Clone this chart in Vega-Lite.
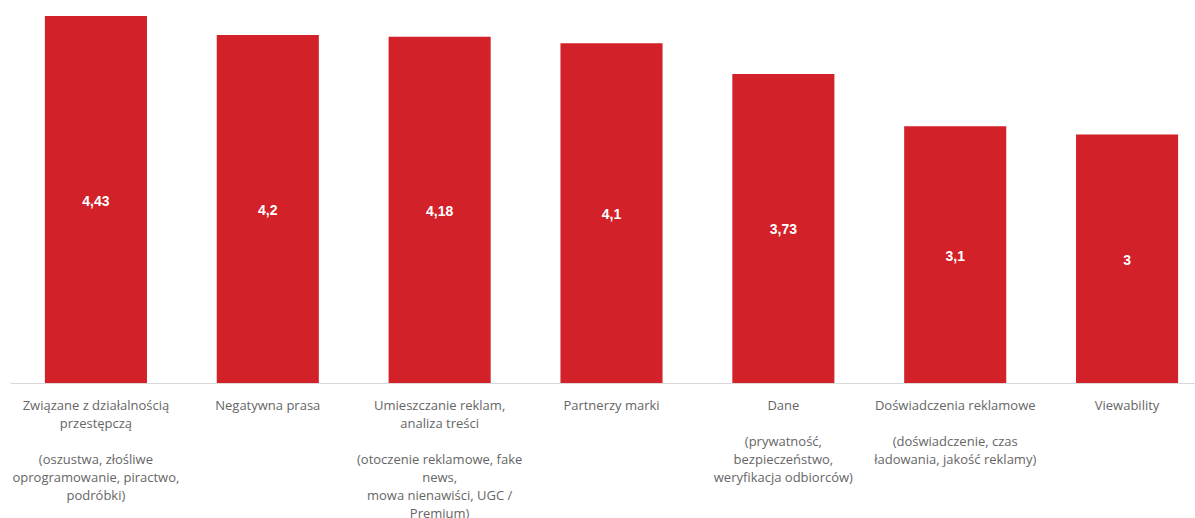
{
  "$schema": "https://vega.github.io/schema/vega-lite/v6.json",
  "autosize": {"type": "none"},
  "padding": {"left": 10, "top": 16, "right": 0, "bottom": 135},
  "width": 1203,
  "height": 367,
  "data": {"values": [
    {"kategoria": "Związane z działalnością\nprzestępczą\n\u200b\n(oszustwa, złośliwe\noprogramowanie, piractwo,\npodróbki)", "wartosc": 4.43},
    {"kategoria": "Negatywna prasa", "wartosc": 4.2},
    {"kategoria": "Umieszczanie reklam,\nanaliza treści\n\u200b\n(otoczenie reklamowe, fake\nnews,\nmowa nienawiści, UGC /\nPremium)", "wartosc": 4.18},
    {"kategoria": "Partnerzy marki", "wartosc": 4.1},
    {"kategoria": "Dane\n\u200b\n(prywatność,\nbezpieczeństwo,\nweryfikacja odbiorców)", "wartosc": 3.73},
    {"kategoria": "Doświadczenia reklamowe\n\u200b\n(doświadczenie, czas\nładowania, jakość reklamy)", "wartosc": 3.1},
    {"kategoria": "Viewability", "wartosc": 3}
  ]},
  "transform": [{"calculate": "datum.wartosc / 2", "as": "srodek"}],
  "encoding": {
    "x": {
      "field": "kategoria", "type": "nominal", "sort": null,
      "scale": {"paddingInner": 0.406, "paddingOuter": 0.203},
      "axis": {
        "title": null, "labelAngle": 0, "ticks": false,
        "labelPadding": 16, "labelLimit": 0,
        "labelExpr": "split(datum.label, '\\n')",
        "labelFont": "Open Sans", "labelFontSize": 13, "labelColor": "#666666",
        "labelLineHeight": 18, "labelBaseline": "top",
        "domainColor": "#d9d9d9", "domainWidth": 1
      }
    }
  },
  "layer": [
    {
      "mark": {"type": "bar", "color": "#D22128"},
      "encoding": {
        "y": {"field": "wartosc", "type": "quantitative", "scale": {"domain": [0, 4.43], "nice": false}, "axis": null}
      }
    },
    {
      "mark": {"type": "text", "color": "white", "font": "Liberation Sans", "fontWeight": "bold", "fontSize": 14, "baseline": "middle", "dy": 2},
      "encoding": {
        "y": {"field": "srodek", "type": "quantitative", "scale": {"domain": [0, 4.43], "nice": false}, "axis": null},
        "text": {"field": "wartosc", "type": "quantitative", "format": "~r"}
      }
    }
  ],
  "config": {
    "view": {"stroke": null},
    "axis": {"grid": false},
    "locale": {"number": {"decimal": ",", "thousands": " ", "grouping": [3], "currency": ["", " zł"]}}
  }
}
